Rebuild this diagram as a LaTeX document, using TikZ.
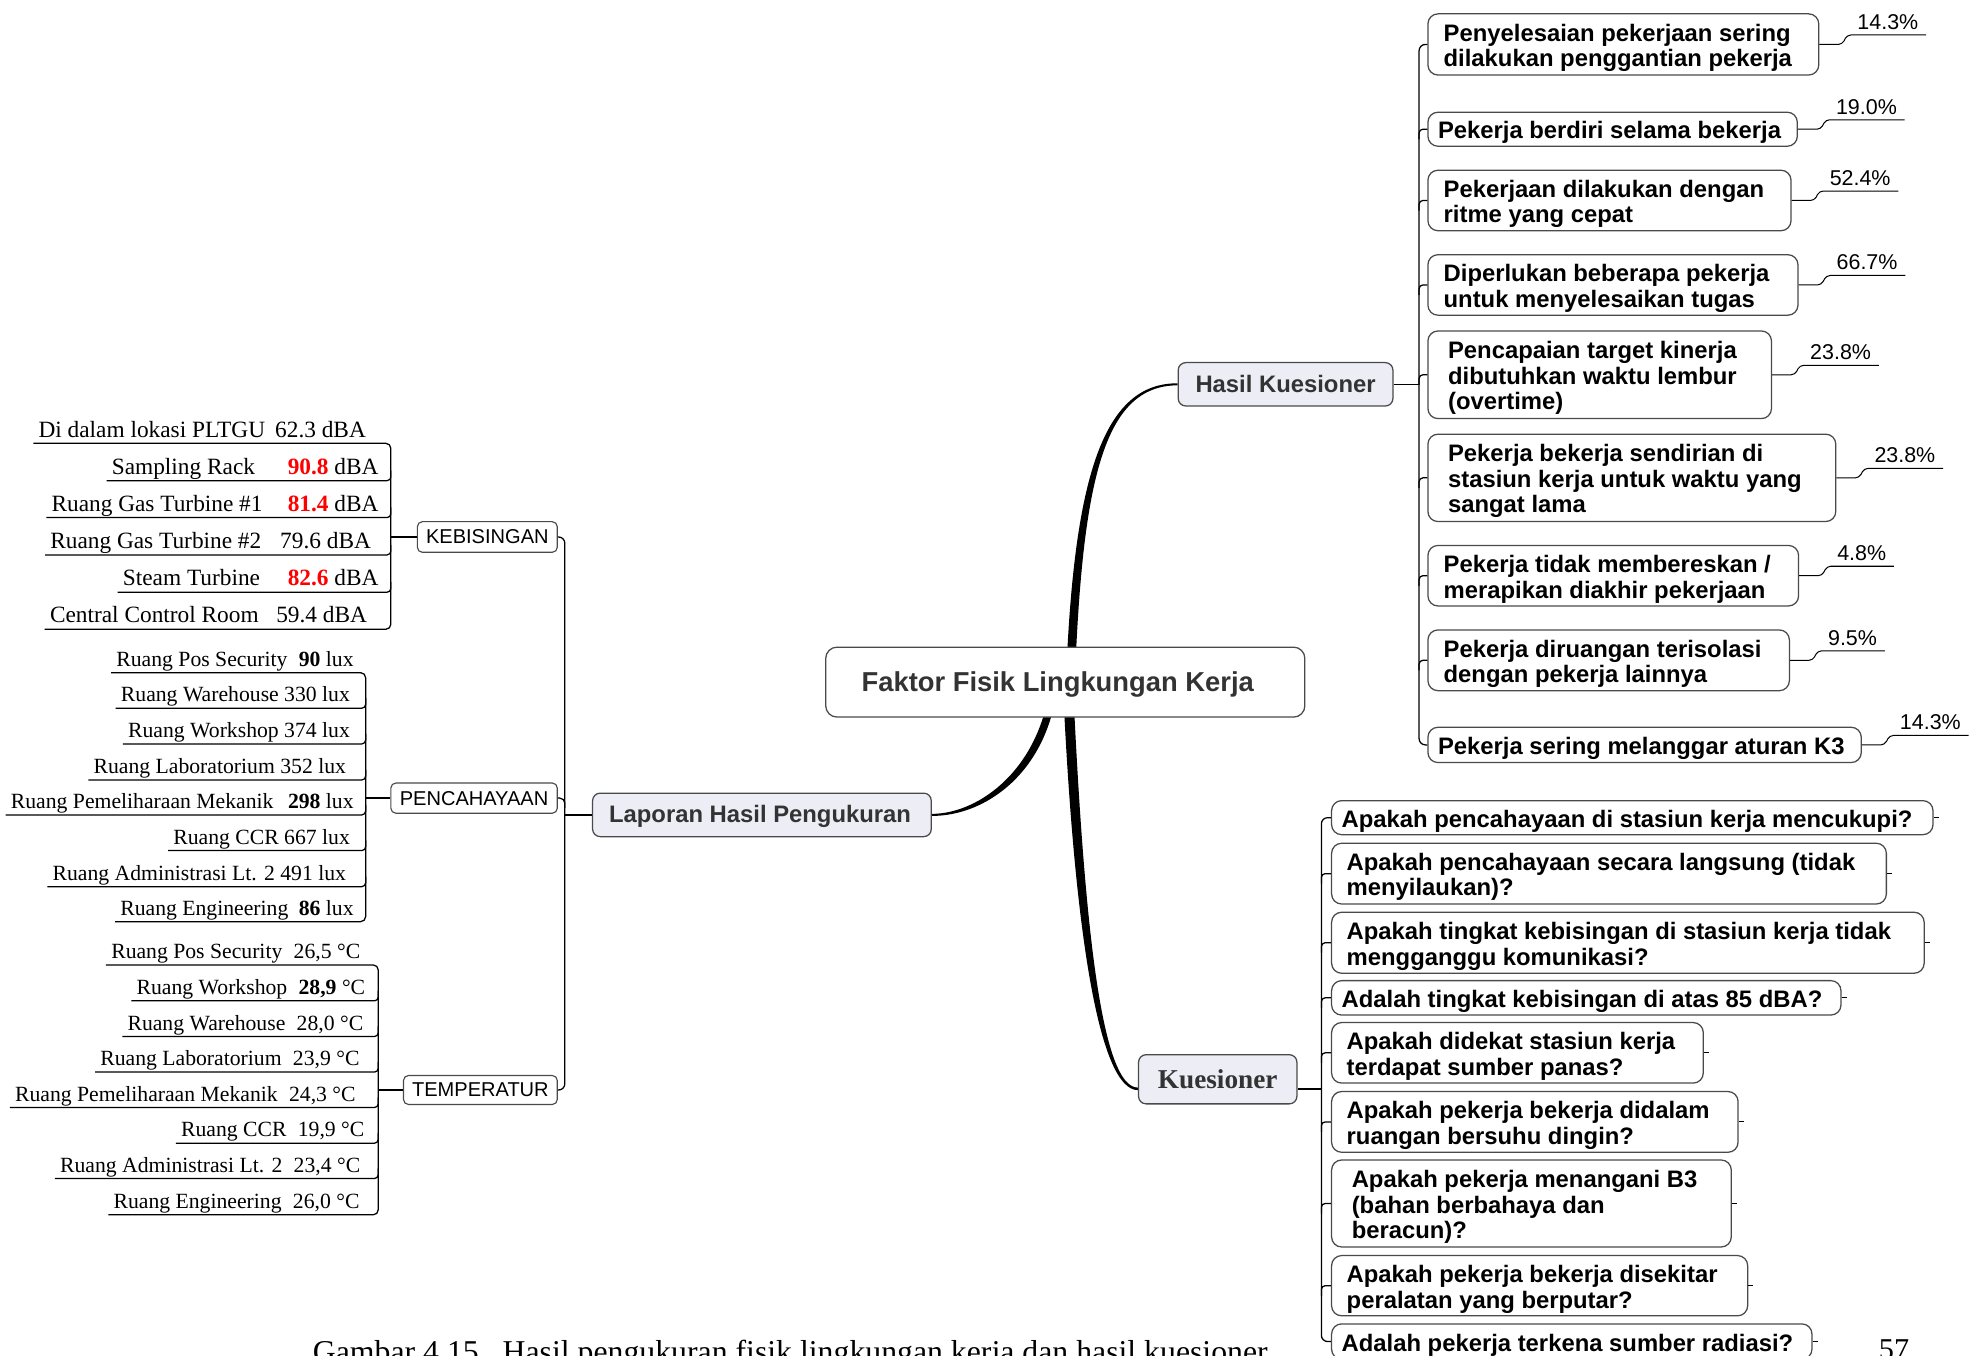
\documentclass[tikz,border=0pt]{standalone}
\usepackage{fontspec}
\setmainfont{Liberation Serif}
\newfontfamily\sansf{Liberation Sans}
\usetikzlibrary{calc,backgrounds}
\definecolor{bordc}{HTML}{4A4A4A}
\definecolor{txtc}{HTML}{333333}
\definecolor{lfill}{HTML}{ECEDF5}
\definecolor{redv}{HTML}{FF0000}
\newcommand{\rv}[1]{\textcolor{redv}{\textbf{#1}}}
\newcommand{\qb}[7]{%
  \pgfmathsetmacro{\qwidth}{#4-2*#6}%
  \node[qbox, inner xsep=#6pt, minimum height=#5pt] (#1) at (#2,#3) {\makebox[\qwidth pt][l]{\raisebox{-3.5pt}[\height][\depth]{\begin{tabular}{@{}l@{}}#7\end{tabular}}}};}
\newcommand{\pc}[3]{%
  \node[pct] (#1) at ($(#2.east)+(30,-12)$) {#3};
  \draw[thinconn, rounded corners=3pt] (#2.east) -- ++(18,0) -- ++(4,-7.5) -- ($(#1.base east)+(6,4.5)$);}
\begin{document}
\begin{tikzpicture}[x=1pt,y=-1pt,
  conn/.style={draw=black, line width=1pt},
  thinconn/.style={draw=black, line width=0.8pt},
  catbox/.style={draw=bordc, line width=0.9pt, fill=white, rounded corners=4pt, inner sep=0pt, font=\sansf\fontsize{15.9}{18}\selectfont},
  mainbox/.style={draw=bordc, line width=1pt, fill=lfill, rounded corners=6pt, text=txtc, inner sep=0pt, font=\sansf\bfseries\fontsize{18.9}{21}\selectfont},
  rootbox/.style={draw=bordc, line width=1pt, fill=white, rounded corners=9pt, text=txtc, inner sep=0pt, font=\sansf\bfseries\fontsize{21.7}{24}\selectfont},
  qbox/.style={draw=bordc, line width=1pt, fill=white, rounded corners=8pt, anchor=west, align=left, inner ysep=0pt, font=\sansf\bfseries\fontsize{18.9}{20.3}\selectfont},
  pct/.style={anchor=base west, inner sep=0pt, font=\sansf\fontsize{17}{19}\selectfont},
  kitem/.style={anchor=base east, inner sep=0pt, font=\fontsize{18.5}{20}\selectfont},
  litem/.style={anchor=base east, inner sep=0pt, font=\fontsize{17.2}{19}\selectfont}]
\useasboundingbox (0,0) rectangle (1568,1075);
\clip (0,0) rectangle (1568,1075);

% central and main branches
\node[rootbox, minimum width=380pt, minimum height=55.5pt] (root) at (844.9,541) {\raisebox{-2pt}[\height][\depth]{Faktor Fisik Lingkungan Kerja}\kern12pt};
\node[mainbox, minimum width=268.6pt, minimum height=34.5pt] (lap) at (604.3,646.3) {\raisebox{-1pt}[\height][\depth]{Laporan Hasil Pengukuran}\kern3pt};
\node[mainbox, minimum width=170.3pt, minimum height=34.4pt] (hk) at (1019.6,304.8) {Hasil Kuesioner};
\node[mainbox, font=\bfseries\fontsize{21.6}{24}\selectfont, minimum width=125.6pt, minimum height=39pt] (kue) at (965.8,856) {Kuesioner};

\begin{pgfonlayer}{background}
\fill ($(root.center)+(0.5,0)$) .. controls (851.5,378) and (875,303.8) .. ($(hk.west)+(0,-0.8)$) -- ($(hk.west)+(0,0.8)$) .. controls (875,305.8) and (858.5,382) .. ($(root.center)+(7.5,0)$) -- cycle;
\fill ($(root.center)+(-6,0)$) .. controls (832,612) and (782,647.3) .. ($(lap.east)+(0,0.8)$) -- ($(lap.east)+(0,-0.8)$) .. controls (778,645.3) and (826,608) .. ($(root.center)+(-12,0)$) -- cycle;
\fill ($(root.center)+(-2,0)$) .. controls (852,742) and (872,864.6) .. ($(kue.west)+(0,8.6)$) -- ($(kue.west)+(0,6.6)$) .. controls (874,862.6) and (860,738) .. ($(root.center)+(6,0)$) -- cycle;
\end{pgfonlayer}

% category boxes
\node[catbox, minimum width=111pt, minimum height=24.3pt] (keb) at (386.5,425.9) {KEBISINGAN};
\node[catbox, minimum width=132pt, minimum height=24pt] (pen) at (376,633) {PENCAHAYAAN};
\node[catbox, minimum width=122pt, minimum height=23pt] (temp) at (381,864.5) {TEMPERATUR};

\draw[conn, rounded corners=5pt] (keb.east) -- (448,425.9) -- (448,864.5) -- (temp.east);
\draw[conn, rounded corners=4pt] (pen.east) -- (448,633) -- (448,641);
\draw[conn] (lap.west) -- (448,646.3);

% KEBISINGAN items
\node[kitem] (k1) at (290.4,351.6-5) {Di dalam lokasi PLTGU\hspace{8pt}62.3 dBA};
\node[kitem] (k2) at (300.4,381.2-5) {Sampling Rack\hspace{26pt}\rv{90.8} dBA};
\node[kitem] (k3) at (300.4,410.5-5) {Ruang Gas Turbine \#1\hspace{20pt}\rv{81.4} dBA};
\node[kitem] (k4) at (294.4,440.1-5) {Ruang Gas Turbine \#2\hspace{15pt}79.6 dBA};
\node[kitem] (k5) at (300.4,469.7-5) {Steam Turbine\hspace{22pt}\rv{82.6} dBA};
\node[kitem] (k6) at (291.3,499.1-5) {Central Control Room\hspace{14pt}59.4 dBA};
\draw[conn, rounded corners=4pt] ($(k1.base west)+(-4,5)$) -- (310,351.6) -- (310,499.1) -- ($(k6.base west)+(-4,5)$);
\foreach \n/\u in {k2/381.2,k3/410.5,k4/440.1,k5/469.7}
  \draw[conn, rounded corners=3pt] ($(\n.base west)+(-4,5)$) -- (310,\u) -- (310,\u-8);
\draw[conn] (keb.west) -- (310,425.9);

% PENCAHAYAAN items
\node[litem] (p1) at (280.7,533.5-5) {Ruang Pos Security\hspace{9pt}\textbf{90} lux};
\node[litem] (p2) at (277.7,561.7-5) {Ruang Warehouse 330 lux};
\node[litem] (p3) at (277.7,590-5) {Ruang Workshop 374 lux};
\node[litem] (p4) at (274.6,618.6-5) {Ruang Laboratorium 352 lux};
\node[litem] (p5) at (280.7,646.3-5) {Ruang Pemeliharaan Mekanik\hspace{11.5pt}\textbf{298} lux};
\node[litem] (p6) at (277.7,674.6-5) {Ruang CCR 667 lux};
\node[litem] (p7) at (274.6,703.2-5) {Ruang Administrasi Lt. 2 491 lux};
\node[litem] (p8) at (280.7,731-5) {Ruang Engineering\hspace{8.3pt}\textbf{86} lux};
\draw[conn, rounded corners=4pt] ($(p1.base west)+(-4,5)$) -- (290,533.5) -- (290,731) -- ($(p8.base west)+(-4,5)$);
\foreach \n/\u in {p2/561.7,p3/590,p4/618.6,p5/646.3,p6/674.6,p7/703.2}
  \draw[conn, rounded corners=3pt] ($(\n.base west)+(-4,5)$) -- (290,\u) -- (290,\u-8);
\draw[conn] (pen.west) -- (290,633);

% TEMPERATUR items
\node[litem] (t1) at (285.9,765.3-5) {Ruang Pos Security\hspace{9pt}26,5 °C};
\node[litem] (t2) at (289.8,793.8-5) {Ruang Workshop\hspace{9pt}\textbf{28,9} °C};
\node[litem] (t3) at (288.3,822.1-5) {Ruang Warehouse\hspace{9pt}28,0 °C};
\node[litem] (t4) at (285.3,850.3-5) {Ruang Laboratorium\hspace{9pt}23,9 °C};
\node[litem] (t5) at (282.2,878.4-5) {Ruang Pemeliharaan Mekanik\hspace{9pt}24,3 °C};
\node[litem] (t6) at (289.2,906.7-5) {Ruang CCR\hspace{9pt}19,9 °C};
\node[litem] (t7) at (285.9,934.7-5) {Ruang Administrasi Lt. 2\hspace{9pt}23,4 °C};
\node[litem] (t8) at (285.3,963.5-5) {Ruang Engineering\hspace{9pt}26,0 °C};
\draw[conn, rounded corners=4pt] ($(t1.base west)+(-4,5)$) -- (300,765.3) -- (300,963.5) -- ($(t8.base west)+(-4,5)$);
\foreach \n/\u in {t2/793.8,t3/822.1,t4/850.3,t5/878.4,t6/906.7,t7/934.7}
  \draw[conn, rounded corners=3pt] ($(\n.base west)+(-4,5)$) -- (300,\u) -- (300,\u-8);
\draw[conn] (temp.west) -- (300,864.5);

% Hasil Kuesioner children
\qb{r1}{1132}{35.25}{310}{48.5}{12.5}{Penyelesaian pekerjaan sering\\dilakukan penggantian pekerja}
\qb{r2}{1132}{102.5}{293}{27}{8}{Pekerja berdiri selama bekerja}
\qb{r3}{1132}{159}{288}{48}{12.5}{Pekerjaan dilakukan dengan\\ritme yang cepat}
\qb{r4}{1132}{226}{293.5}{48}{12.5}{Diperlukan beberapa pekerja\\untuk menyelesaikan tugas}
\qb{r5}{1132}{297.25}{272.5}{69.5}{16}{Pencapaian target kinerja\\dibutuhkan waktu lembur\\(overtime)}
\qb{r6}{1132}{379}{323.5}{69.3}{16}{Pekerja bekerja sendirian di\\stasiun kerja untuk waktu yang\\sangat lama}
\qb{r7}{1132}{456.6}{294}{48}{12.5}{Pekerja tidak membereskan /\\merapikan diakhir pekerjaan}
\qb{r8}{1132}{523.7}{286.7}{48.2}{12.5}{Pekerja diruangan terisolasi\\dengan pekerja lainnya}
\qb{r9}{1132}{590.8}{343.7}{28}{8}{Pekerja sering melanggar aturan K3}
\pc{v1}{r1}{14.3\%}
\pc{v2}{r2}{19.0\%}
\pc{v3}{r3}{52.4\%}
\pc{v4}{r4}{66.7\%}
\pc{v5}{r5}{23.8\%}
\pc{v6}{r6}{23.8\%}
\pc{v7}{r7}{4.8\%}
\pc{v8}{r8}{9.5\%}
\pc{v9}{r9}{14.3\%}
\draw[conn, rounded corners=5pt] (r1.west) -- (1125.5,35.25) -- (1125.5,590.8) -- (r9.west);
\foreach \n/\y in {r2/102.5,r3/159,r4/226,r5/297.25,r6/379,r7/456.6,r8/523.7}
  \draw[conn, rounded corners=3pt] (1125.5,\y+8) -- (1125.5,\y) -- (\n.west);
\draw[conn] (hk.east) -- (1125.5,304.8);

% Kuesioner children
\qb{q1}{1055.6}{648.5}{477}{27}{8}{Apakah pencahayaan di stasiun kerja mencukupi?}
\qb{q2}{1055.6}{692.9}{440}{48.2}{12}{Apakah pencahayaan secara langsung (tidak\\menyilaukan)?}
\qb{q3}{1055.6}{747.7}{470}{48.4}{12}{Apakah tingkat kebisingan di stasiun kerja tidak\\mengganggu komunikasi?}
\qb{q4}{1055.6}{791.4}{404}{27.3}{8}{Adalah tingkat kebisingan di atas 85 dBA?}
\qb{q5}{1055.6}{835}{294.8}{48}{12}{Apakah didekat stasiun kerja\\terdapat sumber panas?}
\qb{q6}{1055.6}{889.8}{322.4}{48.2}{12}{Apakah pekerja bekerja didalam\\ruangan bersuhu dingin?}
\qb{q7}{1055.6}{954.5}{317}{69}{16}{Apakah pekerja menangani B3\\(bahan berbahaya dan\\beracun)?}
\qb{q8}{1055.6}{1019.7}{330}{47.8}{12}{Apakah pekerja bekerja disekitar\\peralatan yang berputar?}
\qb{q9}{1055.6}{1064}{381}{28}{8}{Adalah pekerja terkena sumber radiasi?}
\foreach \n in {q1,q2,q3,q4,q5,q6,q7,q8,q9}
  \draw[thinconn] (\n.east) -- ++(4,0);
\draw[conn, rounded corners=5pt] (q1.west) -- (1048,648.5) -- (1048,1064) -- (q9.west);
\foreach \n/\y in {q2/692.9,q3/747.7,q4/791.4,q5/835,q6/889.8,q7/954.5,q8/1019.7}
  \draw[conn, rounded corners=3pt] (1048,\y+8) -- (1048,\y) -- (\n.west);
\draw[conn] ($(kue.east)+(0,7.6)$) -- (1048,863.6);

% caption and page number
\node[anchor=base west, inner sep=0pt, font=\fontsize{25.2}{28}\selectfont] (cap) at (248,1081) {Gambar 4.15.\ \ Hasil pengukuran fisik lingkungan kerja dan hasil kuesioner};
\node[anchor=base west, inner sep=0pt, font=\fontsize{24}{28}\selectfont] (pg) at (1490,1078) {57};
\end{tikzpicture}
\end{document}
